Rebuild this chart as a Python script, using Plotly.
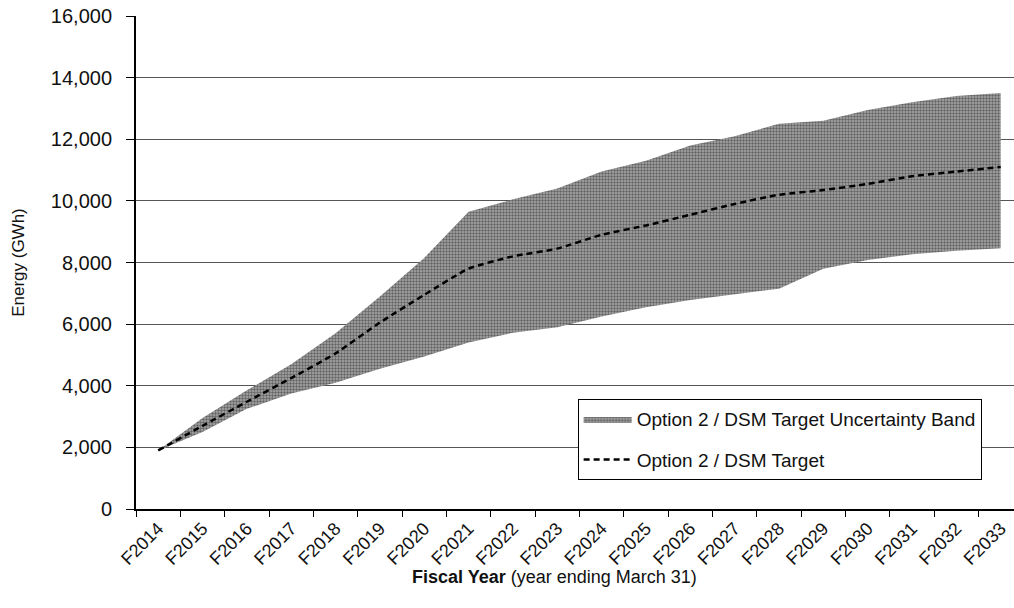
import plotly.graph_objects as go

# Fiscal years (year ending March 31)
years = ["F2014", "F2015", "F2016", "F2017", "F2018", "F2019", "F2020",
         "F2021", "F2022", "F2023", "F2024", "F2025", "F2026", "F2027",
         "F2028", "F2029", "F2030", "F2031", "F2032", "F2033"]

# Option 2 / DSM target energy savings (GWh)
target = [1900, 2700, 3480, 4250, 5050, 6050, 6950, 7800, 8200, 8450,
          8900, 9200, 9550, 9900, 10200, 10350, 10550, 10800, 10950, 11100]

# Uncertainty band bounds (GWh)
band_upper = [1900, 2950, 3850, 4700, 5700, 6900, 8150, 9650, 10050, 10400,
              10950, 11300, 11800, 12100, 12500, 12600, 12950, 13200, 13400, 13500]
band_lower = [1900, 2500, 3250, 3750, 4100, 4550, 4950, 5400, 5720, 5900,
              6250, 6550, 6780, 6970, 7150, 7800, 8080, 8270, 8380, 8460]

y_ticks = [0, 2000, 4000, 6000, 8000, 10000, 12000, 14000, 16000]

FONT = "Liberation Sans, Arial, sans-serif"

fig = go.Figure()

# lower edge of the band (invisible, used as the fill base)
fig.add_trace(go.Scatter(
    x=years, y=band_lower, mode="lines",
    line=dict(width=0, color="rgba(0,0,0,0)"),
    showlegend=False, hoverinfo="skip", legendgroup="band",
))

# upper edge filled down to the lower edge
fig.add_trace(go.Scatter(
    x=years, y=band_upper, mode="lines",
    line=dict(width=0, color="rgba(0,0,0,0)"),
    fill="tonexty",
    fillcolor="#8c8c8c",
    fillpattern=dict(shape=".", fgcolor="#1e1e1e", bgcolor="#a9a9a9",
                     size=3, solidity=0.5),
    name="Option 2 / DSM Target Uncertainty Band",
    legendgroup="band",
))

# target line
fig.add_trace(go.Scatter(
    x=years, y=target, mode="lines",
    line=dict(color="#000000", width=2.5, dash="6px,4px",
              shape="spline", smoothing=0.5),
    name="Option 2 / DSM Target",
    legendgroup="target",
))

fig.update_layout(
    width=1014, height=608,
    margin=dict(l=136, r=0, t=16, b=99, pad=0),
    paper_bgcolor="white", plot_bgcolor="white",
    font=dict(family=FONT, size=18, color="#111111"),
    showlegend=True,
    legend=dict(
        x=0.503, y=0.223, xanchor="left", yanchor="top",
        bgcolor="white", bordercolor="#000000", borderwidth=1,
        font=dict(family=FONT, size=19, color="#111111"),
        itemwidth=48, tracegroupgap=13, traceorder="grouped",
    ),
    xaxis=dict(
        type="category",
        range=[-0.5, 19.3],
        tickson="boundaries",
        ticks="outside", ticklen=6, tickwidth=1, tickcolor="#000000",
        tickangle=-45,
        tickfont=dict(family=FONT, size=18, color="#111111"),
        showgrid=False,
        showline=True, linecolor="#000000", linewidth=2,
        zeroline=False,
    ),
    yaxis=dict(
        range=[0, 16000],
        tickvals=y_ticks,
        tickformat=",d",
        ticks="outside", ticklen=8, tickwidth=1, tickcolor="#000000",
        ticklabelstandoff=10,
        tickfont=dict(family=FONT, size=20, color="#111111"),
        showgrid=True, gridcolor="#555555", gridwidth=1,
        showline=True, linecolor="#000000", linewidth=2,
        zeroline=False,
    ),
    annotations=[
        dict(text="<b>Fiscal Year</b> (year ending March 31)",
             xref="paper", yref="paper", x=0.477, y=-0.138,
             xanchor="center", yanchor="middle", showarrow=False,
             font=dict(family=FONT, size=18, color="#111111")),
        dict(text="Energy (GWh)",
             xref="paper", yref="paper", x=-0.134, y=0.5,
             xanchor="center", yanchor="middle", showarrow=False,
             textangle=-90,
             font=dict(family=FONT, size=17, color="#111111")),
    ],
)

fig.write_html("out.html")
